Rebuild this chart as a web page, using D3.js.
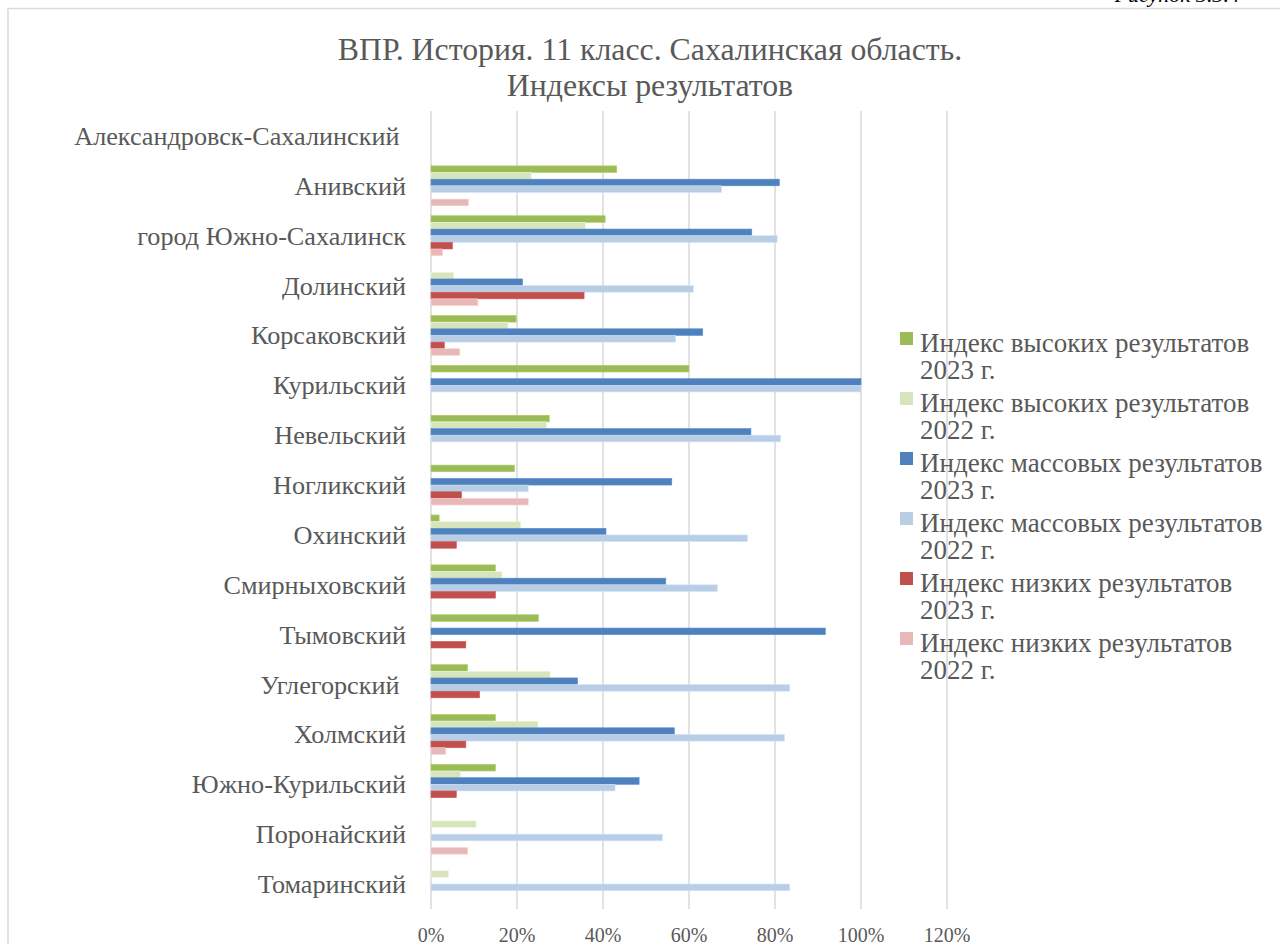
<!DOCTYPE html>
<html lang="ru">
<head>
    <meta charset="UTF-8">
    <title>ВПР. История. 11 класс</title>
    <script src="https://d3js.org/d3.v7.min.js"></script>
</head>
<style>
    * { margin: 0; padding: 0; }
    body { background: #fff; }
    svg text { font-family: "Liberation Serif", "Times New Roman", serif; fill: #595959; white-space: pre; }
</style>
<body>
<script>
    // categories (top to bottom) and series, values in %
    var categories = ["Александровск-Сахалинский ", "Анивский", "город Южно-Сахалинск", "Долинский",
        "Корсаковский", "Курильский", "Невельский", "Ногликский", "Охинский", "Смирныховский",
        "Тымовский", "Углегорский ", "Холмский", "Южно-Курильский", "Поронайский", "Томаринский"];

    var high2023 = [null, 43.2, 40.5, null, 19.8, 60.0, 27.5, 19.4, 1.9, 15.0, 25.0, 8.5, 15.0, 15.0, null, null];
    var high2022 = [null, 23.3, 35.9, 5.3, 17.9, null, 26.9, null, 20.9, 16.5, null, 27.7, 24.9, 6.9, 10.5, 4.1];
    var mass2023 = [null, 81.0, 74.6, 21.3, 63.2, 100, 74.4, 56.0, 40.7, 54.6, 91.7, 34.1, 56.6, 48.4, null, null];
    var mass2022 = [null, 67.6, 80.5, 61.0, 56.9, 100, 81.3, 22.6, 73.6, 66.6, null, 83.4, 82.2, 42.8, 53.8, 83.4];
    var low2023 = [null, null, 5.0, 35.6, 3.1, null, null, 7.1, 5.9, 15.0, 8.1, 11.3, 8.1, 5.9, null, null];
    var low2022 = [null, 8.7, 2.7, 10.9, 6.7, null, null, 22.6, null, null, null, null, 3.4, null, 8.5, null];

    var seriesNames = ["Индекс высоких результатов 2023 г.", "Индекс высоких результатов 2022 г.",
        "Индекс массовых результатов 2023 г.", "Индекс массовых результатов 2022 г.",
        "Индекс низких результатов 2023 г.", "Индекс низких результатов 2022 г."];
    var seriesValues = [high2023, high2022, mass2023, mass2022, low2023, low2022];
    var colors = ["#9bbb59", "#d7e4bd", "#4f81bd", "#b9cde5", "#c0504d", "#e6b9b8"];
    var xTicks = [0, 20, 40, 60, 80, 100, 120];

    var W = 1280, H = 944;
    var plot = {left: 431, right: 947, top: 111, bottom: 909};

    var svg = d3.select("body").append("svg")
        .attr("width", W).attr("height", H);

    svg.append("rect").attr("width", W).attr("height", H).attr("fill", "#fff");

    // chart frame (only top and left edges are inside the picture)
    svg.append("path")
        .attr("d", "M8,944V8.5H1280")
        .attr("fill", "none").attr("stroke", "#d9d9d9").attr("stroke-width", 1.5);

    // cut-off caption above the frame
    svg.append("text").attr("x", 1240).attr("y", 2)
        .attr("text-anchor", "end").style("font-style", "italic").style("fill", "#000")
        .style("font-size", "22px").text("Рисунок 3.3.4");

    var x = d3.scaleLinear().domain([0, 120]).range([plot.left, plot.right]);
    var y = d3.scaleBand().domain(d3.range(categories.length))
        .range([plot.top, plot.bottom]).paddingInner(0.2).paddingOuter(0.1);
    var ys = d3.scaleBand().domain(d3.range(seriesNames.length)).range([0, y.bandwidth()]);

    // gridlines
    svg.append("g").selectAll("line").data(xTicks).join("line")
        .attr("x1", d => x(d)).attr("x2", d => x(d))
        .attr("y1", plot.top).attr("y2", plot.bottom)
        .attr("stroke", "#d9d9d9").attr("stroke-width", 1.5);

    // bars
    var bars = [];
    seriesValues.forEach(function(vals, s) {
        vals.forEach(function(v, i) {
            if (v != null) bars.push({s: s, i: i, v: v});
        });
    });
    svg.append("g").selectAll("rect").data(bars).join("rect")
        .attr("x", x(0))
        .attr("y", d => y(d.i) + ys(d.s))
        .attr("width", d => x(d.v) - x(0))
        .attr("height", ys.bandwidth())
        .attr("fill", d => colors[d.s])
        .attr("stroke", d => d3.color(colors[d.s]).brighter(0.3))
        .attr("stroke-width", 0.6);

    // category labels
    svg.append("g").selectAll("text").data(categories).join("text")
        .attr("x", 406)
        .attr("y", (d, i) => y(i) + y.bandwidth() / 2 + 9)
        .attr("text-anchor", "end")
        .style("font-size", "26.2px")
        .text(d => d);

    // x tick labels
    svg.append("g").selectAll("text").data(xTicks).join("text")
        .attr("x", d => x(d)).attr("y", 942)
        .attr("text-anchor", "middle")
        .style("font-size", "20px")
        .text(d => d + "%");

    // title
    var title = svg.append("text").attr("text-anchor", "middle").style("font-size", "31.8px");
    title.append("tspan").attr("x", 650).attr("y", 60).text("ВПР. История. 11 класс. Сахалинская область.");
    title.append("tspan").attr("x", 650).attr("y", 96).text("Индексы результатов");

    // legend
    var lg = svg.append("g").selectAll("g").data(seriesNames).join("g")
        .attr("transform", (d, i) => "translate(900," + (332 + i * 60) + ")");
    lg.append("rect").attr("width", 13).attr("height", 13).attr("fill", (d, i) => colors[i]);
    var lt = lg.append("text").style("font-size", "27px");
    lt.append("tspan").attr("x", 20).attr("y", 20).text(d => d.replace(/ 20\d\d г\.$/, ""));
    lt.append("tspan").attr("x", 20).attr("y", 47).text(d => d.match(/20\d\d г\.$/)[0]);
</script>
</body>
</html>
